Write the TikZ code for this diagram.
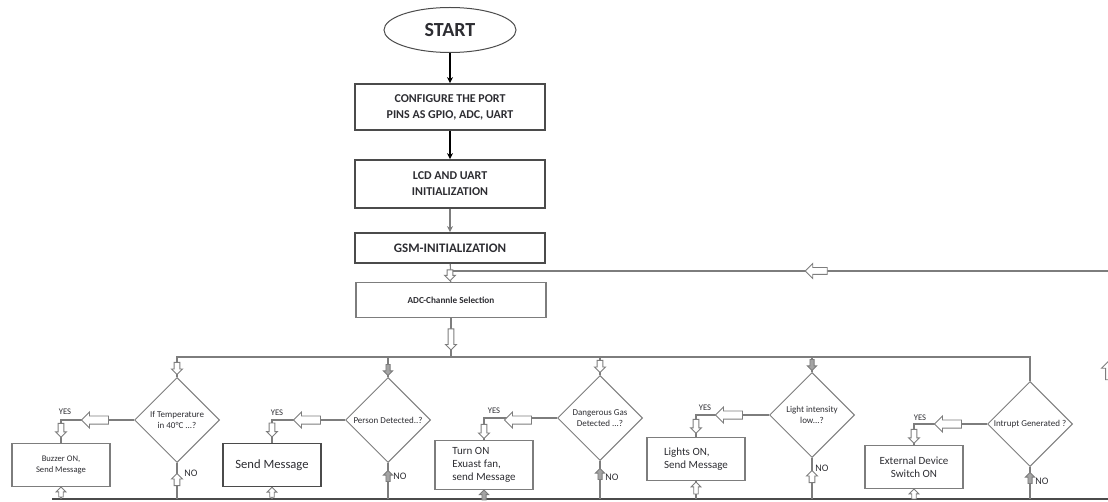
\documentclass[tikz,border=0pt]{standalone}
\usepackage{fontspec}
\setmainfont{Carlito}
\usetikzlibrary{arrows.meta, positioning, shapes.geometric, shapes.arrows}
\definecolor{lgray}{RGB}{125,125,125}
\definecolor{dgray}{RGB}{75,75,75}
\definecolor{txt}{RGB}{45,45,50}

\begin{document}
\begin{tikzpicture}[x=0.5pt, y=-0.5pt, >={Stealth[length=3pt, width=3pt]},
    startnode/.style={ellipse, draw=dgray, line width=0.5pt, minimum width=66pt,
                      minimum height=22.5pt, font=\fontsize{10}{12}\selectfont\bfseries, text=txt},
    topbox/.style={rectangle, draw=dgray, line width=0.9pt, minimum width=95pt,
                   minimum height=#1, font=\fontsize{6}{8}\selectfont\bfseries,
                   align=center, text=txt},
    actbox/.style={rectangle, draw=lgray, line width=0.6pt, minimum width=49pt,
                   minimum height=21.5pt, font=\fontsize{5.5}{6.6}\selectfont,
                   align=center, text=txt},
    decision/.style={diamond, draw=lgray, line width=0.5pt, minimum width=42.5pt,
                     minimum height=42.5pt, inner sep=0pt,
                     font=\fontsize{4.5}{5.6}\selectfont, align=center, text=txt},
    harrow/.style={single arrow, draw=lgray, fill=white, line width=0.45pt,
                   inner sep=1.2pt, shape border rotate=#1, minimum height=6pt,
                   single arrow head extend=1.3pt},
    darrow/.style={harrow=#1, fill=lgray!70, inner sep=0.8pt, minimum height=5.5pt},
    yesarrow/.style={harrow=#1, minimum height=13.5pt, inner sep=1.8pt,
                     single arrow head extend=2pt},
    conn/.style={draw=lgray, line width=0.6pt},
    lbl/.style={font=\fontsize{4.3}{5}\selectfont, text=txt, inner sep=0pt}]

\useasboundingbox (0,0) rectangle (1108,502);

% ════════════════════════════════════════
%  TOP: start and initialization
% ════════════════════════════════════════

\node[startnode] (start) at (450,30) {START};
\node[topbox=23pt] (config) at (450,107) {CONFIGURE THE PORT\\PINS AS GPIO, ADC, UART};
\node[topbox=24pt] (lcd) at (450,184) {LCD AND UART\\INITIALIZATION};
\node[topbox=15pt, font=\fontsize{6.5}{8}\selectfont\bfseries] (gsm) at (450,248) {GSM-INITIALIZATION};
\node[topbox=17.5pt, draw=lgray, line width=0.6pt, font=\fontsize{4.6}{6}\selectfont\bfseries]
    (adc) at (451,300) {ADC-Channle Selection};

\coordinate (fbR) at (1108,271);
\coordinate (bustop) at (451,357);
\coordinate (busbot) at (52,499);

\draw[->, black, line width=0.6pt] (start) -- (config);
\draw[->, black, line width=0.6pt] (config) -- (lcd);
\draw[->, lgray, line width=0.6pt] (lcd) -- (gsm);
\draw[conn] (gsm) -- (adc);
\draw[conn] (fbR) -- (gsm.south |- fbR);
\draw[conn] (adc) -- (adc.south |- bustop);

% ════════════════════════════════════════
%  MIDDLE: decisions and actions
% ════════════════════════════════════════

\node[decision] (temp) at (177,420) {If Temperature\\in 40°C ...?};
\node[decision] (person) at (388,420) {Person Detected..?};
\node[decision] (gas) at (600,418) {Dangerous Gas\\Detected ...?};
\node[decision] (light) at (812,415) {Light intensity\\low...?};
\node[decision] (intr) at (1030,424) {Intrupt Generated ?};

\node[actbox, font=\fontsize{4.3}{5.4}\selectfont] (buzzer) at (61,465) {Buzzer ON,\\Send Message};
\node[actbox, draw=dgray, line width=0.9pt, font=\fontsize{6.3}{7.5}\selectfont] (sendmsg) at (272,465) {Send Message};
\node[actbox, align=left] (fan) at (484,465) {Turn ON\\Exuast fan,\\send Message};
\node[actbox, align=left] (lights) at (696,459) {Lights ON,\\Send Message};
\node[actbox] (extdev) at (914,467) {External Device\\Switch ON};

% bus lines
\draw[conn] (temp.north) |- (bustop) -| (intr.north);
\draw[conn] (person.north) -- (person.north |- bustop);
\draw[conn] (gas.north) -- (gas.north |- bustop);
\draw[conn] (light.north) -- (light.north |- bustop);
\draw[conn, draw=dgray, line width=0.9pt] (busbot) -- (busbot -| fbR);

% YES branches
\draw[conn] (temp.west) -| (buzzer.north);
\draw[conn] (person.west) -| (sendmsg.north);
\draw[conn] (gas.west) -| (fan.north);
\draw[conn] (light.west) -| (lights.north);
\draw[conn] (intr.west) -| (extdev.north);

% NO branches and box exits
\foreach \n in {temp, person, gas, light, intr, buzzer, sendmsg, fan, lights, extdev}
    \draw[conn] (\n.south) -- (\n.south |- busbot);

% ════════════════════════════════════════
%  Hollow arrows on the lines
% ════════════════════════════════════════

\node[harrow=270, minimum height=5.5pt] (a1) at ([yshift=-5pt]gsm.south) {};
\node[harrow=270, minimum height=10.5pt] (a2) at (451,338) {};
\node[yesarrow=180, minimum height=11pt, inner sep=1.5pt] (a3) at (818,271) {};

\node[harrow=270] (t1) at ([yshift=5pt]temp.north) {};
\node[darrow=270] (t2) at ([yshift=4pt]person.north) {};
\node[harrow=270] (t3) at ([yshift=5pt]gas.north) {};
\node[darrow=270] (t4) at ([yshift=4pt]light.north) {};

\node[yesarrow=180] (y1) at (97,420) {};
\node[yesarrow=180] (y2) at (309,420) {};
\node[yesarrow=180] (y3) at (520,420) {};
\node[yesarrow=180] (y4) at (731,415) {};
\node[yesarrow=180] (y5) at (950,424) {};

\node[harrow=270, minimum height=7pt] (d1) at ([yshift=7pt]buzzer.north) {};
\node[harrow=270, minimum height=7pt] (d2) at ([yshift=7pt]sendmsg.north) {};
\node[harrow=270, minimum height=7pt] (d3) at ([yshift=5pt]fan.north) {};
\node[harrow=270, minimum height=7pt] (d4) at ([yshift=6pt]lights.north) {};
\node[harrow=270, minimum height=7pt] (d5) at ([yshift=5pt]extdev.north) {};

\node[lbl] (yl1) at (65,412) {YES};
\node[lbl] (yl2) at (277,413) {YES};
\node[lbl] (yl3) at (494,411) {YES};
\node[lbl] (yl4) at (705,408) {YES};
\node[lbl] (yl5) at (920,418) {YES};

\node[harrow=90] (n1) at ([yshift=-9pt]temp.south) {};
\node[darrow=90] (n2) at ([yshift=-7pt]person.south) {};
\node[darrow=90] (n3) at ([yshift=-7pt]gas.south) {};
\node[harrow=90] (n4) at ([yshift=-10pt]light.south) {};
\node[darrow=90] (n5) at ([yshift=-6pt]intr.south) {};

\node[lbl, font=\fontsize{5}{6}\selectfont, anchor=west] (nl1) at (184,473) {NO};
\node[lbl, font=\fontsize{5}{6}\selectfont, anchor=west] (nl2) at (393,476) {NO};
\node[lbl, font=\fontsize{5}{6}\selectfont, anchor=west] (nl3) at (605,477) {NO};
\node[lbl, font=\fontsize{5}{6}\selectfont, anchor=west] (nl4) at (815,468) {NO};
\node[lbl, font=\fontsize{5}{6}\selectfont, anchor=west] (nl5) at (1035,481) {NO};

\node[harrow=90, minimum height=5pt, inner sep=0.9pt] (b1) at ([yshift=-3pt]buzzer.south) {};
\node[harrow=90, minimum height=5pt, inner sep=0.9pt] (b2) at ([yshift=-3pt]sendmsg.south) {};
\node[darrow=90, minimum height=5pt] (b3) at ([yshift=-3pt]fan.south) {};
\node[harrow=90, minimum height=6pt, inner sep=0.9pt] (b4) at ([yshift=-4pt]lights.south) {};
\node[harrow=90, minimum height=5pt, inner sep=0.9pt] (b5) at ([yshift=-3pt]extdev.south) {};

% arrow at the right edge
\node[harrow=90, minimum height=10pt, inner sep=2pt, single arrow head extend=2pt] (edge) at (1110,372) {};

\end{tikzpicture}
\end{document}
